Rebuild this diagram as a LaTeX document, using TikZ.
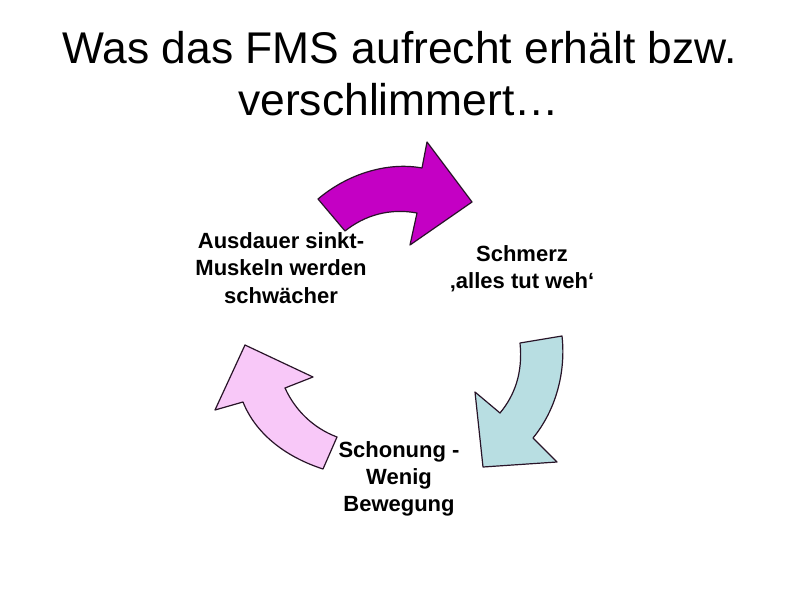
\documentclass[tikz,border=0pt]{standalone}
\usepackage{fontspec}
\setmainfont{Liberation Sans}
\definecolor{arrpurple}{RGB}{196,0,196}
\definecolor{arrblue}{RGB}{184,222,226}
\definecolor{arrpink}{RGB}{248,200,248}
\definecolor{edge}{RGB}{40,20,40}
\begin{document}
\begin{tikzpicture}[x=0.75pt,y=-0.75pt,
  arrowshape/.style={draw=edge,line width=0.9pt,line join=round},
  lbl/.style={align=center,font=\bfseries\fontsize{16.5}{20.5}\selectfont},
  ttl/.style={anchor=base west,inner sep=0pt,font=\fontsize{33.3}{40}\selectfont}]
\useasboundingbox (0,0) rectangle (800,600);
\fill[white] (0,0) rectangle (800,600);
% title
\node[ttl] (t1) at (62,63) {Was das FMS aufrecht erhält bzw.};
\node[ttl] (t2) at (238,115) {verschlimmert\ldots};
% arrows
\draw[arrowshape,fill=arrpurple] (318,199) .. controls (350,172) and (390,162) .. (422,168)
  -- (427,142) -- (472,202) -- (410,245) -- (417,213)
  .. controls (390,208) and (365,215) .. (345,231) -- cycle;
\draw[arrowshape,fill=arrblue] (520,343) -- (562,336) .. controls (566,372) and (556,410) .. (533,438)
  -- (557,462) -- (483,467) -- (475,392) -- (500,413)
  .. controls (515,395) and (523,372) .. (520,343) -- cycle;
\draw[arrowshape,fill=arrpink] (337,437) -- (323,469) .. controls (283,456) and (255,432) .. (243,402)
  -- (215,410) -- (245,345) -- (313,377) -- (285,388)
  .. controls (295,410) and (313,428) .. (337,437) -- cycle;
% labels
\node[lbl] (a) at (281,268) {Ausdauer sinkt-\\Muskeln werden\\schwächer};
\node[lbl] (b) at (522,269) {Schmerz\\‚alles tut weh‘};
\node[lbl] (c) at (399,479) {Schonung -\\Wenig\\Bewegung};
\end{tikzpicture}
\end{document}
